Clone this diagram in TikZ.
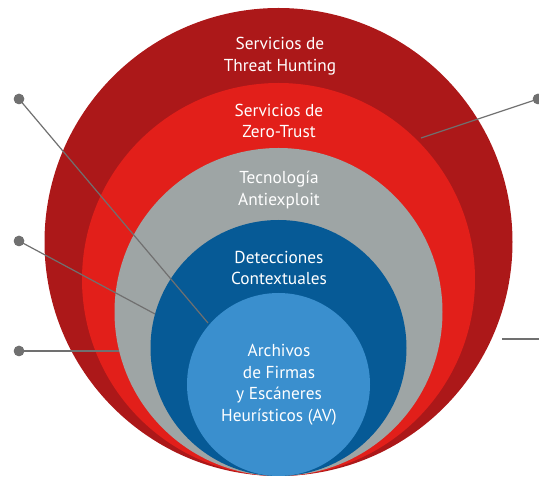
\documentclass[tikz,border=0pt]{standalone}
\usepackage{fontspec}
\setmainfont{PT Sans}
\definecolor{darkred}{HTML}{AC1819}
\definecolor{brightred}{HTML}{E21F1A}
\definecolor{ringgray}{HTML}{9EA5A5}
\definecolor{darkblue}{HTML}{065A96}
\definecolor{lightblue}{HTML}{3A8FCE}
\definecolor{linegray}{HTML}{707070}
\begin{document}
\begin{tikzpicture}[x=1pt,y=1pt,
  ring/.style={circle,inner sep=0pt,draw=none},
  lbl/.style={text=white,align=center,font=\fontsize{17.3}{21.5}\selectfont,inner sep=0pt},
  dotnode/.style={circle,fill=linegray,inner sep=0pt,minimum size=10.5pt},
  conn/.style={draw=linegray,line width=1.2pt}]
\useasboundingbox (0,0) rectangle (539,477);
% rings (all tangent at the bottom)
\node[ring,fill=darkred,minimum size=468pt] (r1) at (278.5,235) {};
\node[ring,fill=brightred,minimum size=393pt] (r2) at (278.5,197.5) {};
\node[ring,fill=ringgray,minimum size=328pt] (r3) at (278.5,165) {};
\node[ring,fill=darkblue,minimum size=256pt] (r4) at (278.5,129) {};
\node[ring,fill=lightblue,minimum size=183pt] (r5) at (278.5,92.5) {};
% labels
\node[lbl] (t1) at (280,421) {Servicios de\\Threat Hunting};
\node[lbl] (t2) at (279,356) {Servicios de\\Zero-Trust};
\node[lbl] (t3) at (279,287) {Tecnología\\Antiexploit};
\node[lbl] (t4) at (279,209) {Detecciones\\Contextuales};
\node[lbl] (t5) at (279,92) {Archivos\\de Firmas\\y Escáneres\\Heurísticos (AV)};
% connectors
\node[dotnode] (d1) at (19,378) {};
\node[dotnode] (d2) at (19,236) {};
\node[dotnode] (d3) at (19,126) {};
\node[dotnode] (d4) at (538,378) {};
\coordinate (e1) at (208,154);
\coordinate (e2) at (155,163);
\coordinate (e3) at (119,126);
\coordinate (e4) at (421,339);
\coordinate (e5) at (502,138);
\coordinate (f5) at (539,138);
\draw[conn] (d1.center) -- (e1);
\draw[conn] (d2.center) -- (e2);
\draw[conn] (d3.center) -- (e3);
\draw[conn] (d4.center) -- (e4);
\draw[conn] (e5) -- (f5);
\node[dotnode] at (d1) {};
\node[dotnode] at (d2) {};
\node[dotnode] at (d3) {};
\node[dotnode] at (d4) {};
\end{tikzpicture}
\end{document}
